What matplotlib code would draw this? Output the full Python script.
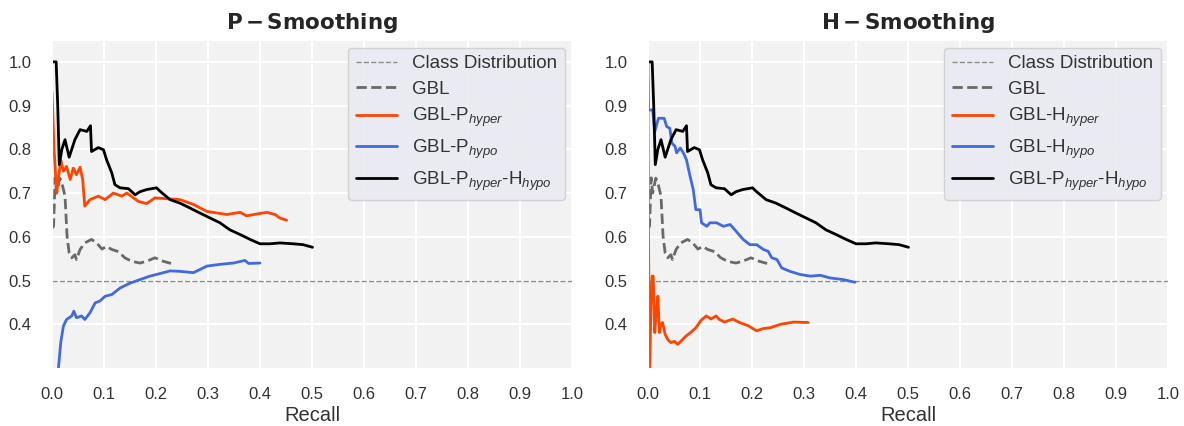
import matplotlib
matplotlib.use("Agg")
import matplotlib.pyplot as plt
import seaborn as sns

# shared curves (same model in both panels)
gbl_r = [0.0, 0.003, 0.006, 0.009, 0.015, 0.019, 0.025, 0.029, 0.033, 0.038, 0.044, 0.047,
         0.054, 0.063, 0.076, 0.086, 0.096, 0.105, 0.115, 0.128, 0.140, 0.153, 0.169, 0.182,
         0.198, 0.214, 0.229]
gbl_p = [0.62, 0.624, 0.735, 0.700, 0.734, 0.723, 0.693, 0.601, 0.563, 0.552, 0.559, 0.548,
         0.571, 0.586, 0.594, 0.586, 0.572, 0.578, 0.571, 0.566, 0.552, 0.544, 0.540, 0.544,
         0.552, 0.544, 0.539]

both_r = [0.0, 0.008, 0.011, 0.014, 0.019, 0.025, 0.033, 0.044, 0.054, 0.067, 0.074, 0.076,
          0.089, 0.099, 0.105, 0.115, 0.121, 0.131, 0.147, 0.160, 0.169, 0.182, 0.201, 0.208,
          0.227, 0.246, 0.265, 0.285, 0.304, 0.323, 0.342, 0.362, 0.381, 0.400, 0.419, 0.438,
          0.464, 0.483, 0.501]
both_p = [1.0, 1.0, 0.90, 0.765, 0.80, 0.822, 0.782, 0.822, 0.845, 0.841, 0.854, 0.795,
          0.804, 0.799, 0.776, 0.746, 0.719, 0.712, 0.710, 0.696, 0.703, 0.708, 0.712, 0.704,
          0.685, 0.677, 0.666, 0.654, 0.643, 0.632, 0.616, 0.605, 0.594, 0.584, 0.584, 0.586,
          0.584, 0.582, 0.576]

# P - Smoothing
p_hyper_r = [0.0, 0.001, 0.004, 0.009, 0.013, 0.017, 0.022, 0.028, 0.035, 0.041, 0.047, 0.054,
             0.059, 0.063, 0.073, 0.089, 0.102, 0.118, 0.134, 0.144, 0.166, 0.182, 0.198, 0.221,
             0.246, 0.272, 0.298, 0.336, 0.362, 0.374, 0.413, 0.429, 0.438, 0.451]
p_hyper_p = [0.93, 0.90, 0.80, 0.70, 0.74, 0.775, 0.75, 0.761, 0.731, 0.757, 0.742, 0.759,
             0.731, 0.670, 0.685, 0.693, 0.685, 0.700, 0.693, 0.700, 0.681, 0.676, 0.689, 0.687,
             0.685, 0.674, 0.658, 0.651, 0.656, 0.648, 0.656, 0.651, 0.643, 0.638]

p_hypo_r = [0.010, 0.017, 0.022, 0.028, 0.038, 0.042, 0.047, 0.057, 0.063, 0.073, 0.083, 0.092,
            0.102, 0.115, 0.131, 0.150, 0.169, 0.188, 0.208, 0.227, 0.246, 0.272, 0.298, 0.323,
            0.349, 0.371, 0.378, 0.400]
p_hypo_p = [0.27, 0.36, 0.396, 0.411, 0.419, 0.430, 0.415, 0.419, 0.411, 0.426, 0.449, 0.453,
            0.464, 0.468, 0.483, 0.494, 0.502, 0.510, 0.516, 0.522, 0.521, 0.518, 0.533, 0.537,
            0.540, 0.546, 0.539, 0.540]

# H - Smoothing
h_hyper_r = [0.0, 0.001, 0.003, 0.006, 0.008, 0.010, 0.013, 0.016, 0.019, 0.022, 0.025, 0.028,
             0.033, 0.038, 0.044, 0.051, 0.057, 0.063, 0.073, 0.083, 0.092, 0.102, 0.112, 0.121,
             0.131, 0.137, 0.147, 0.163, 0.176, 0.192, 0.209, 0.221, 0.235, 0.255, 0.280, 0.308]
h_hyper_p = [0.90, 0.60, 0.28, 0.46, 0.51, 0.51, 0.381, 0.43, 0.464, 0.381, 0.40, 0.404,
             0.377, 0.365, 0.358, 0.361, 0.354, 0.361, 0.373, 0.382, 0.392, 0.409, 0.419, 0.412,
             0.419, 0.411, 0.405, 0.412, 0.404, 0.397, 0.385, 0.390, 0.392, 0.400, 0.405, 0.404]

h_hypo_r = [0.0, 0.001, 0.009, 0.013, 0.020, 0.031, 0.036, 0.042, 0.046, 0.052, 0.055, 0.062,
            0.068, 0.074, 0.081, 0.087, 0.092, 0.100, 0.103, 0.113, 0.119, 0.132, 0.145, 0.158,
            0.167, 0.183, 0.196, 0.209, 0.222, 0.231, 0.238, 0.248, 0.257, 0.273, 0.292, 0.312,
            0.331, 0.350, 0.376, 0.398]
h_hypo_p = [1.0, 0.89, 0.89, 0.84, 0.871, 0.871, 0.852, 0.848, 0.814, 0.807, 0.792, 0.803,
            0.792, 0.776, 0.738, 0.708, 0.662, 0.662, 0.632, 0.624, 0.632, 0.632, 0.624, 0.628,
            0.616, 0.594, 0.582, 0.582, 0.571, 0.567, 0.552, 0.548, 0.529, 0.521, 0.514, 0.510,
            0.512, 0.506, 0.502, 0.496]

class_dist = 0.5
xticks = [0.0, 0.1, 0.2, 0.3, 0.4, 0.5, 0.6, 0.7, 0.8, 0.9, 1.0]
yticks = [0.4, 0.5, 0.6, 0.7, 0.8, 0.9, 1.0]

sns.set_style("darkgrid", {"axes.facecolor": "#f2f2f2"})
plt.rcParams['font.family'] = ['Liberation Sans', 'DejaVu Sans']
plt.rcParams['mathtext.fontset'] = 'custom'
plt.rcParams['mathtext.rm'] = 'Liberation Sans'
plt.rcParams['mathtext.it'] = 'Liberation Sans:italic'
plt.rcParams['mathtext.bf'] = 'DejaVu Sans:bold'

fig = plt.figure(figsize=(11.84, 4.26), dpi=100)
ax1 = fig.add_axes([52 / 1184, 58 / 426, 520 / 1184, 328 / 426])
ax2 = fig.add_axes([648 / 1184, 58 / 426, 520 / 1184, 328 / 426])

panels = [
    (ax1, r'$\bf{P-Smoothing}$', p_hyper_r, p_hyper_p, p_hypo_r, p_hypo_p,
     'GBL-P$_{hyper}$', 'GBL-P$_{hypo}$'),
    (ax2, r'$\bf{H-Smoothing}$', h_hyper_r, h_hyper_p, h_hypo_r, h_hypo_p,
     'GBL-H$_{hyper}$', 'GBL-H$_{hypo}$'),
]

for ax, title, hr_r, hr_p, ho_r, ho_p, hr_lab, ho_lab in panels:
    ax.axhline(class_dist, color='#8c8c8c', linestyle='--', linewidth=1, label='Class Distribution')
    ax.plot(gbl_r, gbl_p, color='#696969', linestyle='--', linewidth=2, label='GBL')
    ax.plot(hr_r, hr_p, color='#ff4500', linewidth=2, label=hr_lab)
    ax.plot(ho_r, ho_p, color='#4169e1', linewidth=2, label=ho_lab)
    ax.plot(both_r, both_p, color='black', linewidth=2, label='GBL-P$_{hyper}$-H$_{hypo}$')
    ax.set_xlim(0, 1.0)
    ax.set_ylim(0.3, 1.05)
    ax.set_xticks(xticks)
    ax.set_yticks(yticks)
    ax.tick_params(axis='both', labelsize=12, labelcolor='#333333')
    ax.tick_params(axis='x', pad=10)
    ax.tick_params(axis='y', pad=11)
    ax.set_title(title, fontsize=15.5, pad=8)
    ax.set_xlabel('Recall', fontsize=14.5, labelpad=3, color='#333333')
    ax.grid(color='white', linewidth=1.5)
    leg = ax.legend(loc='upper right', fontsize=13.5, handlelength=2.2, facecolor='#eaeaf2',
                    edgecolor='#d0d0d0', framealpha=0.95, borderaxespad=0.4, labelspacing=0.45)
    for t in leg.get_texts():
        t.set_color('#333333')

fig.savefig('out.png', dpi=100)
